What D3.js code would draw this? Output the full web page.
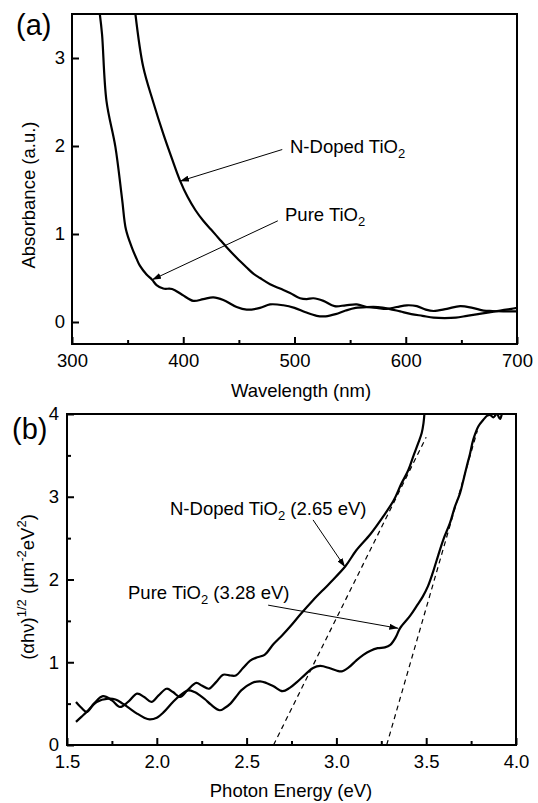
<!DOCTYPE html>
<html>
<head>
<meta charset="utf-8">
<script src="https://cdn.jsdelivr.net/npm/d3@7"></script>
<style>
  body { margin: 0; background: #fff; }
  svg text { font-family: "Liberation Sans", Arial, sans-serif; fill: #000; }
</style>
</head>
<body>
<div id="chart"></div>
<script>
// ---- panel (a) data: absorbance vs wavelength ----
var pureWave = [325, 327, 331, 339, 345, 348.5, 354, 358, 361, 367, 372, 376, 382, 390, 399, 409, 418, 427, 436, 448, 457, 469, 478,
  490, 500, 510, 520, 528, 537, 546, 555, 565, 575, 585, 595, 605, 615, 625, 635, 645, 655, 665, 675, 685, 695, 700];
var pureAbs = [3.5, 3.27, 2.51, 1.99, 1.40, 1.05, 0.84, 0.72, 0.64, 0.54, 0.48, 0.42, 0.38, 0.375, 0.31, 0.24, 0.26, 0.28, 0.25, 0.17, 0.14, 0.16, 0.20,
  0.19, 0.16, 0.11, 0.07, 0.065, 0.09, 0.13, 0.16, 0.17, 0.17, 0.15, 0.12, 0.09, 0.07, 0.05, 0.045, 0.05, 0.07, 0.09, 0.11, 0.13, 0.15, 0.16];

var dopedWave = [357, 364, 373, 382, 390, 397, 404, 411, 418, 425, 432, 439, 448, 457, 463, 469, 478,
  487, 496, 505, 511, 517, 526, 536, 546, 556, 565, 574, 583, 592, 601, 610, 618, 625, 637, 649, 660, 670, 678, 690, 700];
var dopedAbs = [3.5, 2.9, 2.5, 2.14, 1.85, 1.61, 1.42, 1.27, 1.15, 1.05, 0.95, 0.85, 0.73, 0.62, 0.55, 0.50, 0.43,
  0.38, 0.33, 0.27, 0.26, 0.27, 0.24, 0.18, 0.19, 0.20, 0.17, 0.16, 0.15, 0.17, 0.19, 0.18, 0.14, 0.125, 0.15, 0.18, 0.16, 0.13, 0.125, 0.12, 0.12];

var waveTicks = [300, 400, 500, 600, 700];
var waveMinor = [350, 450, 550, 650];
var absTicks = [0, 1, 2, 3];

// ---- panel (b) data: Tauc plot vs photon energy ----
var dopedEnergy = [1.55, 1.58, 1.61, 1.65, 1.70, 1.75, 1.795, 1.84, 1.89, 1.93, 1.97, 2.01, 2.055, 2.09, 2.13, 2.17, 2.22, 2.25, 2.29, 2.33, 2.37, 2.41, 2.44, 2.48,
  2.52, 2.56, 2.60, 2.65, 2.70, 2.75, 2.80, 2.87, 2.96, 3.05, 3.11, 3.19, 3.26, 3.32, 3.36, 3.40, 3.43, 3.456, 3.475, 3.485, 3.49];
var dopedTauc = [0.52, 0.45, 0.40, 0.50, 0.59, 0.54, 0.46, 0.52, 0.62, 0.58, 0.52, 0.60, 0.68, 0.64, 0.58, 0.66, 0.75, 0.72, 0.68, 0.76, 0.85, 0.84, 0.84, 0.93,
  1.02, 1.06, 1.09, 1.22, 1.33, 1.45, 1.58, 1.75, 1.95, 2.16, 2.35, 2.55, 2.76, 2.96, 3.15, 3.32, 3.50, 3.65, 3.77, 3.89, 4.0];

var pureEnergy = [1.55, 1.58, 1.61, 1.665, 1.73, 1.77, 1.81, 1.85, 1.89, 1.93, 1.96, 2.00, 2.04, 2.09, 2.13, 2.175, 2.21, 2.24, 2.27, 2.30, 2.35, 2.38, 2.41,
  2.44, 2.47, 2.53, 2.575, 2.61, 2.65, 2.70, 2.74, 2.78, 2.83, 2.87, 2.91, 2.96, 3.00, 3.03, 3.07, 3.11, 3.15, 3.19, 3.23, 3.27, 3.30, 3.33, 3.354,
  3.41, 3.45, 3.48, 3.51, 3.535, 3.558, 3.595, 3.632, 3.66, 3.688, 3.707, 3.725, 3.744, 3.762, 3.79, 3.818, 3.84, 3.855, 3.874, 3.893, 3.911, 3.92];
var pureTauc = [0.28, 0.34, 0.40, 0.52, 0.56, 0.55, 0.50, 0.44, 0.38, 0.33, 0.31, 0.33, 0.40, 0.52, 0.60, 0.66, 0.64, 0.60, 0.55, 0.49, 0.42, 0.45, 0.50,
  0.58, 0.66, 0.75, 0.77, 0.75, 0.71, 0.65, 0.69, 0.76, 0.86, 0.93, 0.955, 0.93, 0.90, 0.89, 0.94, 1.02, 1.09, 1.14, 1.17, 1.18, 1.21, 1.30, 1.41,
  1.56, 1.69, 1.79, 1.92, 2.07, 2.23, 2.48, 2.68, 2.88, 3.04, 3.20, 3.36, 3.52, 3.69, 3.85, 3.93, 3.98, 3.99, 3.96, 4.0, 3.94, 3.99];

// linear fits (band gap extrapolation)
var dopedFitEnergy = [2.65, 3.50];
var dopedFitTauc = [0, 3.72];
var pureFitEnergy = [3.28, 3.785];
var pureFitTauc = [0, 3.8];

var energyTicks = [1.5, 2.0, 2.5, 3.0, 3.5, 4.0];
var energyMinor = [1.75, 2.25, 2.75, 3.25, 3.75];
var taucTicks = [0, 1, 2, 3, 4];
var taucMinor = [0.5, 1.5, 2.5, 3.5];

var svgWidth = 538;
var svgHeight = 803;
var fontSize = 18.5;

var svg = d3.select("#chart").append("svg")
  .attr("width", svgWidth)
  .attr("height", svgHeight);

var defs = svg.append("defs");
defs.append("marker")
  .attr("id", "arrow")
  .attr("markerUnits", "userSpaceOnUse")
  .attr("markerWidth", 9)
  .attr("markerHeight", 6)
  .attr("refX", 9)
  .attr("refY", 3)
  .attr("orient", "auto")
  .append("path")
  .attr("d", "M0,0 L9,3 L0,6 Z")
  .attr("fill", "#000");

function zip(xs, ys) {
  return xs.map(function(x, i) { return [x, ys[i]]; });
}

// draws frame, ticks, labels; returns scales
function makePanel(opt) {
  var x = d3.scaleLinear().domain(opt.xDomain).range(opt.xRange);
  var y = d3.scaleLinear().domain(opt.yDomain).range(opt.yRange);
  var g = svg.append("g");

  defs.append("clipPath").attr("id", opt.id + "-clip")
    .append("rect")
    .attr("x", opt.xRange[0]).attr("y", opt.yRange[1])
    .attr("width", opt.xRange[1] - opt.xRange[0])
    .attr("height", opt.yRange[0] - opt.yRange[1]);

  // minor ticks
  if (opt.xMinor) {
    g.append("g")
      .attr("transform", "translate(0," + opt.yRange[0] + ")")
      .call(d3.axisBottom(x).tickValues(opt.xMinor).tickSizeInner(-4).tickSizeOuter(0).tickFormat(""))
      .call(function(a) { a.select(".domain").remove(); a.selectAll("line").attr("stroke-width", 2); });
  }
  if (opt.yMinor) {
    g.append("g")
      .attr("transform", "translate(" + opt.xRange[0] + ",0)")
      .call(d3.axisLeft(y).tickValues(opt.yMinor).tickSizeInner(-4).tickSizeOuter(0).tickFormat(""))
      .call(function(a) { a.select(".domain").remove(); a.selectAll("line").attr("stroke-width", 2); });
  }

  var xAxis = g.append("g")
    .attr("transform", "translate(0," + opt.yRange[0] + ")")
    .call(d3.axisBottom(x).tickValues(opt.xTicks).tickSizeInner(-7).tickSizeOuter(0)
      .tickPadding(10).tickFormat(opt.xFormat));
  var yAxis = g.append("g")
    .attr("transform", "translate(" + opt.xRange[0] + ",0)")
    .call(d3.axisLeft(y).tickValues(opt.yTicks).tickSizeInner(-7).tickSizeOuter(0)
      .tickPadding(opt.yPad).tickFormat(d3.format("d")));
  [xAxis, yAxis].forEach(function(a) {
    a.select(".domain").remove();
    a.selectAll("line").attr("stroke-width", 2);
    a.selectAll("text").attr("font-size", fontSize).attr("font-family", null);
  });

  // frame
  g.append("rect")
    .attr("x", opt.xRange[0]).attr("y", opt.yRange[1])
    .attr("width", opt.xRange[1] - opt.xRange[0])
    .attr("height", opt.yRange[0] - opt.yRange[1])
    .attr("fill", "none")
    .attr("stroke", "#000")
    .attr("stroke-width", 2);

  return { x: x, y: y, clip: "url(#" + opt.id + "-clip)" };
}

function drawCurve(p, pts, dashed) {
  var line = d3.line()
    .x(function(d) { return p.x(d[0]); })
    .y(function(d) { return p.y(d[1]); });
  if (!dashed) line.curve(d3.curveCatmullRom.alpha(0.5));
  svg.append("path")
    .datum(pts)
    .attr("clip-path", p.clip)
    .attr("d", line)
    .attr("fill", "none")
    .attr("stroke", "#000")
    .attr("stroke-width", dashed ? 1.2 : 2.2)
    .attr("stroke-dasharray", dashed ? "5,4" : null)
    .attr("stroke-linejoin", "round");
}

function drawArrow(p, from, to) {
  svg.append("line")
    .attr("x1", p.x(from[0])).attr("y1", p.y(from[1]))
    .attr("x2", p.x(to[0])).attr("y2", p.y(to[1]))
    .attr("stroke", "#000")
    .attr("stroke-width", 1)
    .attr("marker-end", "url(#arrow)");
}

// label with TiO2 subscript
function tioLabel(xp, yp, before, after) {
  var t = svg.append("text").attr("x", xp).attr("y", yp).attr("font-size", fontSize);
  t.append("tspan").text(before + "TiO");
  t.append("tspan").attr("font-size", 13).attr("dy", 5).text("2");
  if (after) t.append("tspan").attr("dy", -5).text(after);
}

// ================= panel (a) =================
var pa = makePanel({
  id: "pa",
  xDomain: [300, 700], xRange: [72, 517],
  yDomain: [-0.25, 3.5], yRange: [344, 14],
  xTicks: waveTicks, xMinor: waveMinor, yTicks: absTicks, yPad: 7,
  xFormat: d3.format("d")
});

drawCurve(pa, zip(pureWave, pureAbs));
drawCurve(pa, zip(dopedWave, dopedAbs));

drawArrow(pa, [489, 1.96], [397, 1.60]);
drawArrow(pa, [485, 1.15], [372, 0.48]);
tioLabel(290, 153, "N-Doped ");
tioLabel(285, 221, "Pure ");

svg.append("text")
  .attr("x", 301).attr("y", 397)
  .attr("text-anchor", "middle")
  .attr("font-size", fontSize)
  .text("Wavelength (nm)");

svg.append("text")
  .attr("transform", "translate(35,195) rotate(-90)")
  .attr("text-anchor", "middle")
  .attr("font-size", fontSize)
  .text("Absorbance (a.u.)");

svg.append("text")
  .attr("x", 16).attr("y", 35)
  .attr("font-size", 29)
  .text("(a)");

// ================= panel (b) =================
var pb = makePanel({
  id: "pb",
  xDomain: [1.5, 4.0], xRange: [67, 516],
  yDomain: [0, 4], yRange: [745, 414],
  xTicks: energyTicks, xMinor: energyMinor, yTicks: taucTicks, yMinor: taucMinor, yPad: 8,
  xFormat: d3.format(".1f")
});

drawCurve(pb, zip(dopedFitEnergy, dopedFitTauc), true);
drawCurve(pb, zip(pureFitEnergy, pureFitTauc), true);
drawCurve(pb, zip(pureEnergy, pureTauc));
drawCurve(pb, zip(dopedEnergy, dopedTauc));

drawArrow(pb, [2.87, 2.72], [3.048, 2.15]);
drawArrow(pb, [2.62, 1.69], [3.345, 1.41]);
tioLabel(170, 515, "N-Doped ", " (2.65 eV)");
tioLabel(128, 599, "Pure ", " (3.28 eV)");

svg.append("text")
  .attr("x", 291).attr("y", 797)
  .attr("text-anchor", "middle")
  .attr("font-size", fontSize)
  .text("Photon Energy (eV)");

var yl = svg.append("text")
  .attr("transform", "translate(34,587) rotate(-90)")
  .attr("text-anchor", "middle")
  .attr("font-size", fontSize);
yl.append("tspan").text("(\u03b1h\u03bd)");
yl.append("tspan").attr("font-size", 13).attr("dy", -8).text("1/2");
yl.append("tspan").attr("dy", 8).text(" (\u03bcm");
yl.append("tspan").attr("font-size", 13).attr("dy", -8).text("-2");
yl.append("tspan").attr("dy", 8).text("eV");
yl.append("tspan").attr("font-size", 13).attr("dy", -8).text("2");
yl.append("tspan").attr("dy", 8).text(")");

svg.append("text")
  .attr("x", 12).attr("y", 439)
  .attr("font-size", 29)
  .text("(b)");
</script>
</body>
</html>
